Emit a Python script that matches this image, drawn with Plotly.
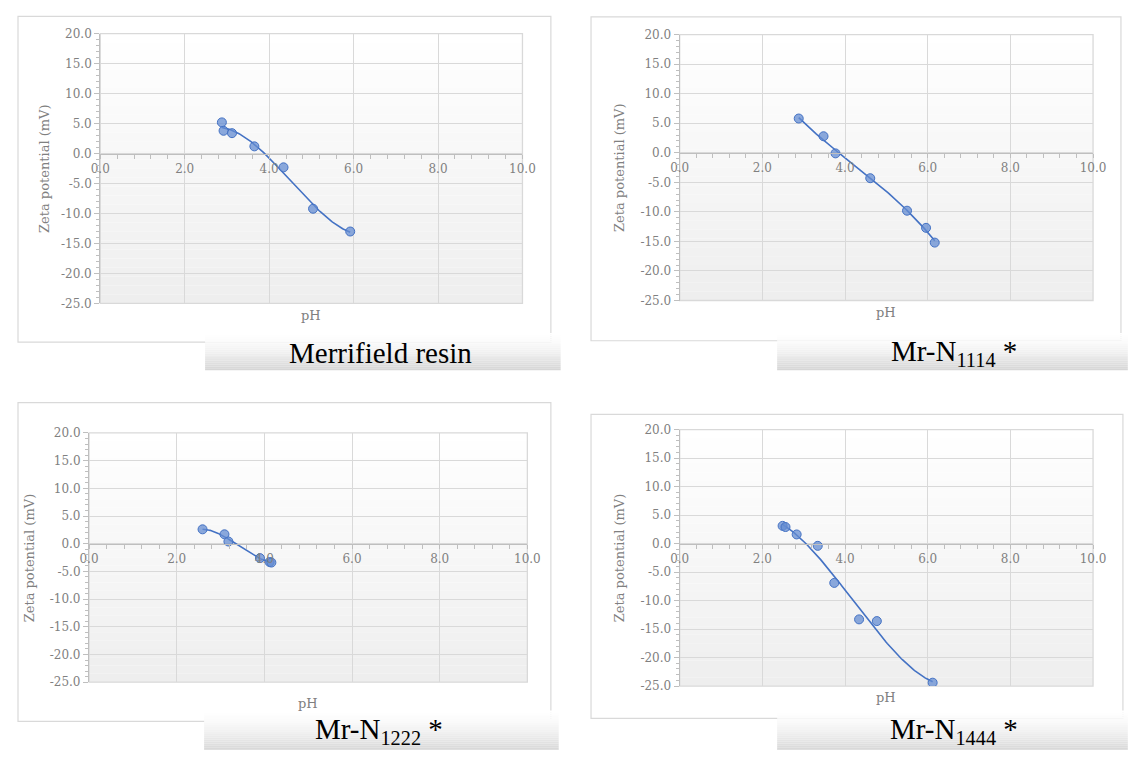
import numpy as np
import plotly.graph_objects as go

# ---------------- data ----------------
captions = ["Merrifield resin", "Mr-N<sub>1114</sub> *", "Mr-N<sub>1222</sub> *", "Mr-N<sub>1444</sub> *"]

ph_merrifield = [2.88, 2.92, 3.12, 3.65, 4.34, 5.04, 5.92]
zeta_merrifield = [5.2, 3.8, 3.4, 1.2, -2.3, -9.2, -13.0]

ph_n1114 = [2.88, 3.48, 3.77, 4.61, 5.50, 5.96, 6.17]
zeta_n1114 = [5.8, 2.8, -0.1, -4.3, -9.8, -12.7, -15.2]

ph_n1222 = [2.59, 3.09, 3.18, 3.90, 4.12, 4.16]
zeta_n1222 = [2.6, 1.7, 0.4, -2.6, -3.3, -3.4]

ph_n1444 = [2.49, 2.56, 2.83, 3.34, 3.74, 4.34, 4.77, 6.12]
zeta_n1444 = [3.1, 2.9, 1.6, -0.4, -6.9, -13.3, -13.6, -24.4]

x_ticks = [0, 2, 4, 6, 8, 10]
x_tick_labels = ["0.0", "2.0", "4.0", "6.0", "8.0", "10.0"]
y_ticks = [20, 15, 10, 5, 0, -5, -10, -15, -20, -25]
y_tick_labels = ["20.0", "15.0", "10.0", "5.0", "0.0", "-5.0", "-10.0", "-15.0", "-20.0", "-25.0"]

x_title = "pH"
y_title = "Zeta potential (mV)"

series = [(ph_merrifield, zeta_merrifield), (ph_n1114, zeta_n1114),
          (ph_n1222, zeta_n1222), (ph_n1444, zeta_n1444)]

# ---------------- layout (pixel geometry in window coordinates) ----------------
# The page body has an 8px margin, so the figure is sized to fit the window exactly.
OFF = 8
W, H = 1140 - 2 * OFF, 758 - 2 * OFF
panels = [
    dict(plot=(92, 27, 523, 302), outer=(8, 9.5, 552, 341.5), cap=(199, 332, 562, 370),
         cap_c=(378, 352), ytx=35, phy=314),
    dict(plot=(683.5, 28, 1105.5, 299), outer=(593, 10, 1134, 340), cap=(783, 332, 1141, 370),
         cap_c=(964, 352), ytx=622, phy=311),
    dict(plot=(80.5, 434, 528, 688), outer=(8, 403, 552, 728), cap=(198, 717, 560, 759),
         cap_c=(377, 738), ytx=20, phy=710),
    dict(plot=(683.5, 430.5, 1105.5, 692), outer=(593, 415, 1136, 725), cap=(783, 717, 1141, 759),
         cap_c=(964, 738), ytx=622, phy=704),
]

def px(x):
    return (x - OFF) / W

def py(y):
    return 1 - (y - OFF) / H

XR = [0, 10]
YR = [-25, 20]
GRID = "#d9d9d9"
AXC = "#bfbfbf"
TICKC = "#808080"
BLUE = "#4472c4"

fig = go.Figure()
shapes = []
annotations = []

def lerp_color(c0, c1, t):
    r = int(round(c0[0] + (c1[0] - c0[0]) * t))
    g = int(round(c0[1] + (c1[1] - c0[1]) * t))
    b = int(round(c0[2] + (c1[2] - c0[2]) * t))
    return f"rgb({r},{g},{b})"

for i, (p, (xs, ys)) in enumerate(zip(panels, series)):
    n = "" if i == 0 else str(i + 1)
    x0, y0, x1, y1 = p["plot"]

    # outer chart box
    ox0, oy0, ox1, oy1 = p["outer"]
    shapes.append(dict(type="rect", xref="paper", yref="paper", layer="below",
                       x0=px(ox0), x1=px(ox1), y0=py(oy1), y1=py(oy0),
                       line=dict(color="#d9d9d9", width=1.2), fillcolor="white"))
    # plot area gradient background
    nb = 30
    for k in range(nb):
        ya = y0 + (y1 - y0) * k / nb
        yb = y0 + (y1 - y0) * (k + 1) / nb
        t = (k + 0.5) / nb
        shapes.append(dict(type="rect", xref="paper", yref="paper", layer="below",
                           x0=px(x0), x1=px(x1), y0=py(yb), y1=py(ya),
                           line=dict(width=0),
                           fillcolor=lerp_color((255, 255, 255), (238, 238, 238), t)))
    # caption box gradient
    cx0, cy0, cx1, cy1 = p["cap"]
    nc = 20
    for k in range(nc):
        ya = cy0 + (cy1 - cy0) * k / nc
        yb = cy0 + (cy1 - cy0) * (k + 1) / nc
        t = ((k + 0.5) / nc) ** 1.6
        shapes.append(dict(type="rect", xref="paper", yref="paper", layer="below",
                           x0=px(cx0), x1=px(cx1), y0=py(yb), y1=py(ya),
                           line=dict(width=0),
                           fillcolor=lerp_color((255, 255, 255), (212, 212, 212), t)))
    # plot border (top/right edge lines)
    shapes.append(dict(type="rect", xref="paper", yref="paper", layer="below",
                       x0=px(x0), x1=px(x1), y0=py(y1), y1=py(y0),
                       line=dict(color=GRID, width=1.3)))

    zero_py = y0 + (YR[1] - 0) / (YR[1] - YR[0]) * (y1 - y0)

    fig.update_layout(**{
        f"xaxis{n}": dict(domain=[px(x0), px(x1)], range=XR, anchor="free", position=py(zero_py),
                          tickvals=x_ticks, ticktext=x_tick_labels,
                          showgrid=True, gridcolor=GRID, gridwidth=1.3,
                          showline=True, linecolor=AXC, linewidth=1.2,
                          ticks="outside", ticklen=4, tickcolor=AXC, tickwidth=1,
                          minor=dict(ticks="outside", ticklen=4, dtick=0.4, tickcolor=AXC, showgrid=False),
                          zeroline=False,
                          tickfont=dict(family="DejaVu Serif", size=12, color=TICKC)),
        f"yaxis{n}": dict(domain=[py(y1), py(y0)], range=YR, anchor=f"x{n}",
                          tickvals=y_ticks, ticktext=y_tick_labels,
                          showgrid=True, gridcolor=GRID, gridwidth=1.3,
                          showline=True, linecolor=AXC, linewidth=1.2,
                          ticks="outside", ticklen=5, tickcolor=AXC, tickwidth=1,
                          minor=dict(ticks="outside", ticklen=3, dtick=1, tickcolor=AXC, showgrid=False),
                          zeroline=False,
                          tickfont=dict(family="DejaVu Serif", size=12, color=TICKC)),
    })

    # polynomial trendline (cubic fit of the data, like the spreadsheet trendline)
    coef = np.polyfit(xs, ys, 3)
    xf = np.linspace(min(xs), max(xs), 120)
    yf = np.polyval(coef, xf)
    fig.add_trace(go.Scatter(x=xf, y=yf, mode="lines", xaxis=f"x{n}", yaxis=f"y{n}",
                             line=dict(color=BLUE, width=1.6), showlegend=False, hoverinfo="skip"))
    fig.add_trace(go.Scatter(x=xs, y=ys, mode="markers", xaxis=f"x{n}", yaxis=f"y{n}",
                             marker=dict(size=9, color="rgba(100,140,210,0.75)",
                                         line=dict(color=BLUE, width=1)),
                             showlegend=False))

    # axis titles
    annotations.append(dict(text=y_title, xref="paper", yref="paper",
                            x=px(p["ytx"]), y=py((y0 + y1) / 2), textangle=-90,
                            showarrow=False, xanchor="center", yanchor="middle",
                            font=dict(family="DejaVu Serif", size=13, color=TICKC)))
    annotations.append(dict(text=x_title, xref="paper", yref="paper",
                            x=px((x0 + x1) / 2), y=py(p["phy"]),
                            showarrow=False, xanchor="center", yanchor="middle",
                            font=dict(family="DejaVu Serif", size=13, color=TICKC)))
    # caption
    annotations.append(dict(text=captions[i], xref="paper", yref="paper",
                            x=px(p["cap_c"][0]), y=py(p["cap_c"][1]),
                            showarrow=False, xanchor="center", yanchor="middle",
                            font=dict(family="Liberation Serif", size=29, color="black")))

fig.update_layout(width=W, height=H, margin=dict(l=0, r=0, t=0, b=0),
                  paper_bgcolor="white", plot_bgcolor="rgba(0,0,0,0)",
                  shapes=shapes, annotations=annotations, showlegend=False)

fig.write_html("out.html")
